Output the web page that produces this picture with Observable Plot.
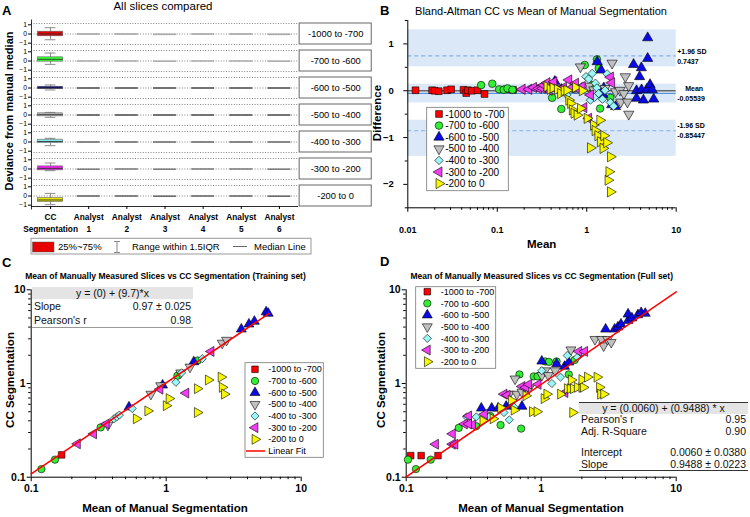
<!DOCTYPE html>
<html>
<head>
<meta charset="utf-8">
<script src="https://cdn.jsdelivr.net/npm/d3@7"></script>
<script src="https://cdn.jsdelivr.net/npm/@observablehq/plot@0.6"></script>
<style>
  body { margin: 0; background: #fff; }
  #root { position: relative; width: 750px; height: 517px; overflow: hidden; background: #fff;
          font-family: "Liberation Sans", Arial, Helvetica, sans-serif; color: #000; }
  .tbl { position: absolute; font-size: 10.5px; color: #111; }
  .tbl .hd { background: #e4e4e4; text-align: center; }
  .tbl .row { display: flex; justify-content: space-between; padding: 0 2px; }
</style>
</head>
<body>
<div id="root"></div>
<script>
const FONT = '"Liberation Sans", Arial, Helvetica, sans-serif';

// ---------------- shared categories ----------------
const sliceRanges = ["-1000 to -700", "-700 to -600", "-600 to -500", "-500 to -400", "-400 to -300", "-300 to -200", "-200 to 0"];
const sliceColors = ["#ff0000", "#33ee33", "#0a0ae6", "#c0c0c0", "#99f7f7", "#f53cf5", "#f7f700"];

// ---------------- panel A: box plots ----------------
const methodLabels = ["CC\nSegmentation", "Analyst\n1", "Analyst\n2", "Analyst\n3", "Analyst\n4", "Analyst\n5", "Analyst\n6"];
const boxColors = ["#e60000", "#33ff33", "#000080", "#bbbbbb", "#88eeee", "#ee22ee", "#e5e500"];
const ccQ1 = [-0.22, -0.06, -0.10, -0.13, -0.10, -0.13, -0.57];
const ccQ3 = [0.22, 0.35, 0.12, 0.16, 0.22, 0.25, -0.19];
const ccMedian = [0.00, 0.16, 0.00, 0.03, 0.05, 0.06, -0.38];
const ccWhiskerLow = [-0.55, -0.32, -0.19, -0.22, -0.35, -0.16, -0.83];
const ccWhiskerHigh = [0.60, 0.76, 0.29, 0.25, 0.35, 0.57, 0.25];
const analystMedian = [
  [0, 0, -0.03, 0, 0, -0.03],
  [0, 0, -0.02, 0, 0, -0.02],
  [0, 0, 0, 0, 0, 0],
  [0, 0, 0, 0, 0, 0],
  [0, 0, 0, 0, 0, 0],
  [-0.02, 0, -0.02, 0, 0, -0.02],
  [0, 0, -0.02, 0, 0, -0.02]
];
const analystTone = ["#a8a8a8", "#b0b0b0", "#555555", "#555555", "#707070", "#808080", "#6a6a6a"];
const aLegendItems = ["25%~75%", "Range within 1.5IQR", "Median Line"];

// ---------------- panel B: Bland-Altman ----------------
const baMeans = [
  [0.0122, 0.0187, 0.020, 0.0222, 0.0275, 0.0305, 0.042, 0.045, 0.047, 0.052, 0.06, 0.072, 0.125, 0.15],
  [0.066, 0.088, 0.105, 0.118, 0.13, 0.148, 0.30, 0.41, 0.52, 0.95, 1.30, 1.36, 1.41, 1.84, 1.15, 0.70],
  [0.44, 0.52, 1.31, 1.45, 1.55, 1.52, 1.90, 2.10, 3.34, 3.60, 3.60, 3.90, 4.08, 4.10, 4.30, 4.70, 4.80, 4.80, 5.10, 5.60, 5.40],
  [0.35, 0.50, 0.85, 1.05, 1.20, 1.92, 2.10, 2.35, 2.40, 2.60, 2.70, 2.85, 2.94, 2.95, 1.60],
  [0.45, 0.60, 0.75, 0.98, 1.05, 1.10, 1.15, 1.22, 1.25, 1.30, 1.36, 1.50, 1.60, 1.69, 1.84, 2.00, 0.90],
  [0.19, 0.225, 0.255, 0.29, 0.32, 0.33, 0.36, 0.38, 0.43, 0.49, 0.55, 0.63, 0.69, 0.75, 0.81, 0.89, 0.93, 1.05, 1.10, 1.84, 1.90],
  [0.36, 0.39, 0.42, 0.47, 0.51, 0.56, 0.60, 0.63, 0.66, 0.69, 0.72, 0.75, 0.78, 0.85, 0.89, 1.01, 1.10, 1.19, 1.24, 1.33, 1.40, 1.42, 1.52, 1.55, 1.67, 1.73, 1.77, 1.84, 1.84]
];
const baDiffs = [
  [0.01, 0.01, 0.0, -0.01, 0.01, 0.03, 0.02, -0.05, 0.01, 0.0, 0.01, -0.07, 0.03, 0.02],
  [0.12, 0.15, 0.03, 0.02, 0.05, 0.02, 0.06, -0.15, -0.39, 0.55, 0.67, 0.48, -0.38, -0.15, 0.12, 0.04],
  [0.20, 0.03, 0.62, 0.44, 0.06, -0.08, -0.30, -0.34, 0.56, -0.16, 0.00, 0.30, 0.49, 0.02, -0.20, 0.03, 1.13, 0.69, 0.13, -0.18, 0.02],
  [0.08, 0.05, 0.51, 0.10, 0.02, 0.59, -0.02, 0.01, -0.24, -0.06, 0.30, -0.24, 0.11, -0.50, 0.05],
  [0.05, -0.09, 0.02, 0.30, 0.25, -0.20, 0.37, -0.14, 0.16, 0.06, -0.06, -0.18, 0.01, 0.36, -0.25, -0.33, 0.10],
  [0.03, 0.03, 0.07, 0.05, 0.05, 0.12, 0.17, 0.01, 0.19, 0.01, 0.07, 0.23, 0.07, 0.16, 0.03, 0.09, -0.36, -0.59, -0.09, 0.29, 0.17],
  [0.09, 0.03, 0.06, 0.03, -0.06, 0.00, 0.01, -0.20, -0.27, -0.41, -0.48, 0.07, -0.52, -0.38, 0.00, -0.59, -1.22, -0.73, -0.85, -0.96, -0.63, -1.09, -1.23, -0.96, -1.11, -1.91, -1.73, -1.41, -2.16]
];
const baMeanDiff = -0.05539;
const baUpper = 0.7437;
const baLower = -0.85447;
const baBandLo = [0.51, -0.26, -1.40];
const baBandHi = [1.30, 0.14, -0.63];
const baXDomain = [0.01, 10];
const baYDomain = [-2.5, 1.5];
const baYTicks = [-2, -1, 0, 1];
const baYMinor = [-2.5, -1.5, -0.5, 0.5, 1.5];

// ---------------- panel C: training set ----------------
const trainManual = [
  [0.168],
  [0.119, 0.15, 0.327, 1.21, 1.71],
  [0.53, 0.94, 1.6, 3.6, 4.1, 4.5, 5.5, 5.7],
  [0.37, 0.77, 0.91, 1.28, 1.5, 2.6, 2.8],
  [0.41, 0.43, 0.45, 0.56, 1.18, 1.3, 1.85],
  [0.22, 0.29, 0.36, 0.9, 1.4, 2.15],
  [0.6, 0.73, 1.0, 1.05, 1.7, 1.7, 2.05, 2.55, 2.6, 2.7]
];
const trainCC = [
  [0.173],
  [0.122, 0.154, 0.34, 1.21, 1.76],
  [0.56, 0.96, 1.7, 3.8, 4.3, 4.6, 5.8, 5.6],
  [0.36, 0.77, 0.95, 1.3, 1.5, 2.7, 2.9],
  [0.42, 0.44, 0.46, 0.54, 1.03, 1.3, 1.84],
  [0.227, 0.29, 0.37, 0.87, 0.79, 2.2],
  [0.42, 0.51, 0.58, 0.69, 0.88, 0.49, 1.09, 1.17, 0.91, 0.77]
];
const trainFitRange = [0.1, 5.8];
const trainFitIntercept = 0.012;
const trainFitSlope = 0.965;
const trainTableHeader = "y = (0) + (9.7)*x";
const trainTableRows = [["Slope", "0.97 ± 0.025"], ["Pearson's r", "0.98"]];

// ---------------- panel D: full set ----------------
const fullManual = [
  [0.108, 0.129, 0.172],
  [0.103, 0.118, 0.152, 0.245, 0.33, 0.42, 0.5, 0.71, 0.69, 0.88, 0.94, 1.07, 1.14, 1.3, 1.6, 1.77],
  [0.36, 0.43, 0.48, 0.55, 0.6, 0.72, 1.01, 1.3, 1.49, 1.6, 3.0, 3.5, 3.7, 3.9, 4.4, 4.4, 4.7, 5.2, 5.5, 5.9],
  [0.58, 0.64, 0.66, 0.72, 0.81, 1.01, 1.07, 1.13, 1.27, 1.66, 2.5, 2.8, 2.9, 3.1, 3.3],
  [0.28, 0.33, 0.41, 0.53, 0.58, 0.63, 1.01, 1.2, 1.39, 1.56, 1.85, 2.0],
  [0.165, 0.22, 0.23, 0.22, 0.27, 0.29, 0.31, 0.29, 0.38, 0.53, 0.56, 0.72, 0.77, 0.81, 0.95, 1.5, 1.9, 2.1],
  [0.37, 0.44, 0.5, 0.6, 0.63, 0.77, 0.86, 0.93, 1.05, 1.1, 1.39, 1.56, 1.64, 1.73, 1.71, 1.85, 2.0, 2.05, 1.67, 2.0, 2.2, 2.59, 2.7, 2.75, 2.9]
];
const fullCC = [
  [0.17, 0.17, 0.17],
  [0.154, 0.122, 0.154, 0.336, 0.35, 0.45, 0.36, 0.33, 1.25, 1.19, 1.19, 1.72, 1.7, 1.72, 1.25, 1.78],
  [0.545, 0.545, 0.545, 0.57, 0.6, 0.57, 1.73, 1.62, 1.52, 1.69, 3.8, 3.8, 4.0, 4.3, 4.7, 5.5, 5.0, 5.4, 5.7, 5.6],
  [0.77, 1.12, 0.77, 0.81, 0.88, 1.22, 1.37, 1.22, 1.37, 2.29, 2.96, 2.96, 2.53, 2.96, 2.75],
  [0.44, 0.44, 0.44, 0.49, 0.41, 0.56, 1.37, 1.0, 1.17, 1.99, 1.9, 2.1],
  [0.225, 0.225, 0.225, 0.29, 0.37, 0.45, 0.36, 0.37, 0.47, 0.77, 0.75, 0.93, 0.91, 0.98, 0.98, 0.8, 2.2, 2.2],
  [0.4, 0.42, 0.55, 0.66, 0.52, 0.74, 0.5, 0.5, 0.69, 0.77, 0.77, 0.88, 0.88, 0.88, 0.49, 0.91, 0.91, 0.91, 1.09, 1.1, 1.17, 1.17, 0.91, 0.77, 0.77]
];
const fullFitRange = [0.1, 10];
const fullFitIntercept = 0.0060;
const fullFitSlope = 0.9488;
const fullTableHeader = "y = (0.0060) + (0.9488) * x";
const fullTableRows = [["Pearson's r", "0.95"], ["Adj. R-Square", "0.90"], null, ["Intercept", "0.0060 ± 0.0380"], ["Slope", "0.9488 ± 0.0223"]];

const logDomain = [0.1, 10];
const logMajor = [0.1, 1, 10];
const baXMajor = [0.01, 0.1, 1, 10];

// ---------------- symbols ----------------
const S3 = Math.sqrt(3);
const triDown = {draw(c, size) { const t = Math.sqrt(size / (S3 * 3)); c.moveTo(0, 2 * t); c.lineTo(S3 * t, -t); c.lineTo(-S3 * t, -t); c.closePath(); }};
const triLeft = {draw(c, size) { const t = Math.sqrt(size / (S3 * 3)); c.moveTo(-2 * t, 0); c.lineTo(t, -S3 * t); c.lineTo(t, S3 * t); c.closePath(); }};
const triRight = {draw(c, size) { const t = Math.sqrt(size / (S3 * 3)); c.moveTo(2 * t, 0); c.lineTo(-t, S3 * t); c.lineTo(-t, -S3 * t); c.closePath(); }};
const sliceSymbols = [d3.symbolSquare, d3.symbolCircle, d3.symbolTriangle, triDown, d3.symbolDiamond2, triLeft, triRight];
const DOT_R = 3.7;

function tidy(xs, ys) {
  const out = [];
  xs.forEach((arr, k) => arr.forEach((x, j) => out.push({k, slice: sliceRanges[k], x, y: ys[k][j]})));
  return out;
}
function dotMarks(data, r) {
  return sliceRanges.map((s, i) => Plot.dot(data.filter(d => d.k === i), {
    x: "x", y: "y", symbol: sliceSymbols[i], fill: sliceColors[i], stroke: "#000", strokeWidth: 0.6, r
  }));
}
function logMinor(domain) {
  return d3.scaleLog().domain(domain).ticks().filter(v => !Number.isInteger(Math.round(Math.log10(v) * 1e6) / 1e6));
}

const root = document.getElementById("root");
function place(node, left, top) {
  const w = document.createElement("div");
  w.style.cssText = `position:absolute;left:${left}px;top:${top}px;`;
  w.appendChild(node);
  root.appendChild(w);
}

// ================= Panel A =================
const xDomainA = [-0.5, 6.5];
const yDomainA = [-1, 1];
const aData = sliceRanges.map((s, i) => ({slice: s, m: 0, q1: ccQ1[i], q3: ccQ3[i], med: ccMedian[i], lo: ccWhiskerLow[i], hi: ccWhiskerHigh[i], fill: boxColors[i]}));
const aAnalyst = analystMedian.flatMap((row, i) => row.map((v, j) => ({slice: sliceRanges[i], m: j + 1, v, tone: analystTone[i]})));
const halfBox = 0.33, halfCap = 0.14, halfLine = 0.3;
const aTickStyle = {tickSize: 3, tickPadding: 1.5, fontSize: 6.8, label: null};

const plotA = Plot.plot({
  width: 375, height: 240,
  marginLeft: 31, marginRight: 77, marginTop: 21, marginBottom: 31.7,
  style: {fontFamily: FONT, fontSize: "8px", background: "transparent", color: "#000"},
  x: {domain: xDomainA, label: null},
  y: {domain: yDomainA, label: null},
  fy: {domain: sliceRanges, axis: null, label: null, paddingInner: 0.24, paddingOuter: 0},
  color: {type: "identity"},
  marks: [
    Plot.gridY([-1, 0, 1], {stroke: "#777", strokeOpacity: 0.9, strokeDasharray: "1,1.6"}),
    Plot.ruleX(sliceRanges, {fy: d => d, x: xDomainA[0], y1: -1.33, y2: 1.33, stroke: "#000", strokeWidth: 0.8}),
    Plot.ruleY([sliceRanges[sliceRanges.length - 1]], {fy: d => d, y: yDomainA[0], stroke: "#000", strokeWidth: 0.8}),
    Plot.axisY([1], {...aTickStyle, dy: 1.3}),
    Plot.axisY([0], {...aTickStyle}),
    Plot.axisY([-1], {...aTickStyle, dy: -1.3}),
    Plot.axisX(d3.range(methodLabels.length), {tickSize: 3, tickPadding: 2, tickFormat: i => methodLabels[i], fontSize: 8.3, fontWeight: "bold", lineHeight: 1.45, label: null}),
    Plot.ruleY(aAnalyst, {fy: "slice", y: "v", x1: d => d.m - halfLine, x2: d => d.m + halfLine, stroke: "tone", strokeWidth: 1.6}),
    Plot.ruleX(aData, {fy: "slice", x: "m", y1: "lo", y2: "hi", stroke: "#8c8c8c"}),
    Plot.ruleY(aData, {fy: "slice", y: "hi", x1: d => d.m - halfCap, x2: d => d.m + halfCap, stroke: "#8c8c8c"}),
    Plot.ruleY(aData, {fy: "slice", y: "lo", x1: d => d.m - halfCap, x2: d => d.m + halfCap, stroke: "#8c8c8c"}),
    Plot.rect(aData, {fy: "slice", x1: d => d.m - halfBox, x2: d => d.m + halfBox, y1: "q1", y2: "q3", fill: "fill", stroke: "#666", strokeWidth: 0.6}),
    Plot.ruleY(aData, {fy: "slice", y: "med", x1: d => d.m - halfBox, x2: d => d.m + halfBox, stroke: "#333", strokeWidth: 0.9}),
    Plot.rect(sliceRanges, {fy: d => d, x1: 6.53, x2: 8.42, y1: -1, y2: 1, fill: "#fff", stroke: "#666", strokeWidth: 1}),
    Plot.text(sliceRanges, {fy: d => d, x: 7.475, y: 0, text: d => d, fontSize: 9.3})
  ]
});
place(plotA, 0, 0);

// ================= Panel B =================
const baData = tidy(baMeans, baDiffs);
const baBands = baBandLo.map((lo, i) => ({lo, hi: baBandHi[i]}));
const annot = {frameAnchor: "right", textAnchor: "start", fontSize: 7, fontWeight: "bold"};
const plotB = Plot.plot({
  width: 375, height: 250,
  marginLeft: 32.3, marginRight: 74.3, marginTop: 20, marginBottom: 42.7,
  style: {fontFamily: FONT, fontSize: "9px", background: "transparent", color: "#000"},
  x: {type: "log", domain: baXDomain, label: null},
  y: {domain: baYDomain, label: null},
  marks: [
    Plot.rect(baBands, {y1: "lo", y2: "hi", fill: "#dbe8f8"}),
    Plot.ruleY([0], {stroke: "#666", strokeWidth: 1.3}),
    Plot.ruleY([baMeanDiff], {stroke: "#3f80d8", strokeWidth: 1}),
    Plot.ruleY([baUpper, baLower], {stroke: "#86aee8", strokeWidth: 1.2, strokeDasharray: "4,3"}),
    Plot.ruleX([baXDomain[0]], {stroke: "#000", strokeWidth: 1}),
    Plot.ruleY([baYDomain[0]], {stroke: "#000", strokeWidth: 1}),
    Plot.axisY(baYTicks, {tickSize: 4, tickPadding: 10, fontSize: 9.5, fontWeight: "bold", label: null}),
    Plot.axisY(baYMinor, {tickSize: 2.5, tickFormat: () => "", label: null}),
    Plot.axisX(baXMajor, {tickSize: 4.5, tickPadding: 14, tickFormat: d => String(d), fontSize: 9, fontWeight: "bold", label: null}),
    Plot.axisX(logMinor(baXDomain), {tickSize: 2.5, tickFormat: () => "", label: null}),
    ...dotMarks(baData, 3.8),
    Plot.text([baUpper], {...annot, y: d => d, text: () => "+1.96 SD", dx: 1, dy: -4.5}),
    Plot.text([baUpper], {...annot, y: d => d, text: d => String(d), dx: 1, dy: 5.5}),
    Plot.text([baMeanDiff], {...annot, y: d => d, text: () => "Mean", dx: 9, dy: -4.5}),
    Plot.text([baMeanDiff], {...annot, y: d => d, text: d => String(d), dx: 1, dy: 5.5}),
    Plot.text([baLower], {...annot, y: d => d, text: () => "-1.96 SD", dx: 1, dy: -4.5}),
    Plot.text([baLower], {...annot, y: d => d, text: d => String(d), dx: 1, dy: 5.5})
  ]
});
place(plotB, 375, 0);

// ================= Panels C & D =================
function scatterPanel(xs, ys, fitRange, b0, b1) {
  const data = tidy(xs, ys);
  const fit = fitRange.map(x => ({x, y: b0 + b1 * x}));
  return Plot.plot({
    width: 375, height: 237,
    marginLeft: 30.7, marginRight: 74.3, marginTop: 9.3, marginBottom: 40.3,
    style: {fontFamily: FONT, fontSize: "10px", background: "transparent", color: "#000"},
    x: {type: "log", domain: logDomain, label: null},
    y: {type: "log", domain: logDomain, label: null},
    marks: [
      Plot.ruleX([logDomain[0]], {stroke: "#000", strokeWidth: 1}),
      Plot.ruleY([logDomain[0]], {stroke: "#000", strokeWidth: 1}),
      Plot.axisX(logMajor, {tickSize: 4.5, tickPadding: 3, tickFormat: d => String(d), fontSize: 10.5, fontWeight: "bold", label: null}),
      Plot.axisX(logMinor(logDomain), {tickSize: 2.5, tickFormat: () => "", label: null}),
      Plot.axisY(logMajor, {tickSize: 4, tickPadding: 1.5, tickFormat: d => String(d), fontSize: 10.5, fontWeight: "bold", label: null}),
      Plot.axisY(logMinor(logDomain), {tickSize: 2.5, tickFormat: () => "", label: null}),
      ...dotMarks(data, DOT_R),
      Plot.line(fit, {x: "x", y: "y", stroke: "#ff0000", strokeWidth: 1.5})
    ]
  });
}
place(scatterPanel(trainManual, trainCC, trainFitRange, trainFitIntercept, trainFitSlope), 0, 280);
place(scatterPanel(fullManual, fullCC, fullFitRange, fullFitIntercept, fullFitSlope), 375, 280);

// ================= Overlay: titles, labels, legends =================
const ov = d3.create("svg").attr("width", 750).attr("height", 517)
  .style("position", "absolute").style("left", "0px").style("top", "0px")
  .style("font-family", FONT).style("pointer-events", "none");
function t(str, x, y, opts = {}) {
  const el = ov.append("text").attr("x", x).attr("y", y).text(str)
    .attr("font-size", opts.size || 10).attr("text-anchor", opts.anchor || "start")
    .attr("font-weight", opts.bold ? "bold" : "normal").attr("fill", opts.fill || "#000");
  if (opts.rotate) el.attr("transform", `rotate(-90 ${x} ${y})`);
  return el;
}
// panel letters
t("A", 2, 15, {size: 13, bold: true});
t("B", 380, 15, {size: 13, bold: true});
t("C", 2, 267, {size: 13, bold: true});
t("D", 380, 266, {size: 13, bold: true});
// titles
t("All slices compared", 163, 10, {size: 11.5, anchor: "middle"});
t("Bland-Altman CC vs Mean of Manual Segmentation", 541, 14.6, {size: 11, anchor: "middle"});
t("Mean of Manually Measured Slices vs CC Segmentation (Training set)", 165.5, 279, {size: 8.5, anchor: "middle", bold: true});
t("Mean of Manually Measured Slices vs CC Segmentation (Full set)", 541.7, 279, {size: 8.5, anchor: "middle", bold: true});
// axis titles
t("Deviance from manual median", 12.5, 111, {size: 11, anchor: "middle", bold: true, rotate: true});
t("Difference", 381, 113, {size: 11.5, anchor: "middle", bold: true, rotate: true});
t("Mean", 541.7, 248, {size: 11.5, anchor: "middle", bold: true});
t("CC Segmentation", 13.5, 380, {size: 11.5, anchor: "middle", bold: true, rotate: true});
t("CC Segmentation", 385, 380, {size: 11.5, anchor: "middle", bold: true, rotate: true});
t("Mean of Manual Segmentation", 165, 511.5, {size: 11.5, anchor: "middle", bold: true});
t("Mean of Manual Segmentation", 541, 511.5, {size: 11.5, anchor: "middle", bold: true});

// panel A legend
ov.append("rect").attr("x", 31).attr("y", 238.3).attr("width", 280).attr("height", 15.7).attr("fill", "#fff").attr("stroke", "#999").attr("stroke-width", 1);
ov.append("rect").attr("x", 32.5).attr("y", 242).attr("width", 21.5).attr("height", 10).attr("fill", boxColors[0]).attr("stroke", "#555").attr("stroke-width", 0.5);
t(aLegendItems[0], 58, 250.3, {size: 9.5});
ov.append("path").attr("d", "M114,241.5H120M117,241.5V252.5M114,252.5H120").attr("stroke", "#888").attr("fill", "none");
t(aLegendItems[1], 132, 250.3, {size: 9.5});
ov.append("line").attr("x1", 233).attr("x2", 247).attr("y1", 246.5).attr("y2", 246.5).attr("stroke", "#666");
t(aLegendItems[2], 254, 250.3, {size: 9.5});

// scatter legends
function legend(x, y, w, h, first, pitch, symX, textX, size, r, withFit) {
  ov.append("rect").attr("x", x).attr("y", y).attr("width", w).attr("height", h).attr("fill", "#fff").attr("stroke", "#777").attr("stroke-width", 0.8);
  sliceRanges.forEach((s, i) => {
    const cy = y + first + i * pitch;
    ov.append("path").attr("d", d3.symbol(sliceSymbols[i], Math.PI * r * r)())
      .attr("transform", `translate(${x + symX},${cy})`)
      .attr("fill", sliceColors[i]).attr("stroke", "#000").attr("stroke-width", 0.6);
    t(s, x + textX, cy + size * 0.35, {size});
  });
  if (withFit) {
    const cy = y + first + sliceRanges.length * pitch;
    ov.append("line").attr("x1", x + 1).attr("x2", x + 20).attr("y1", cy).attr("y2", cy).attr("stroke", "#ff0000").attr("stroke-width", 1.5);
    t("Linear Fit", x + textX, cy + size * 0.35, {size});
  }
}
legend(426.7, 107.3, 81.6, 83.4, 6.7, 11.6, 12.3, 18.5, 10, 3.8, false);
legend(245, 362.7, 78.3, 94.6, 6.6, 11.67, 10, 23.3, 9, 3.7, true);
legend(415.7, 286.7, 80, 81.6, 5, 11.67, 11.6, 25, 9, 3.7, false);
root.appendChild(ov.node());

// tables
function table(left, top, width, header, rows, opts) {
  const div = document.createElement("div");
  div.className = "tbl";
  div.style.cssText = `left:${left}px;top:${top}px;width:${width}px;border-bottom:1px solid ${opts.bottom};` + (opts.top ? `border-top:1px solid ${opts.top};` : "");
  const hd = document.createElement("div");
  hd.className = "hd";
  hd.style.height = hd.style.lineHeight = opts.hdH + "px";
  hd.textContent = header;
  div.appendChild(hd);
  rows.forEach(r => {
    const row = document.createElement("div");
    row.className = "row";
    if (r === null) { row.style.height = opts.gap + "px"; }
    else {
      row.style.height = row.style.lineHeight = opts.rowH + "px";
      const a = document.createElement("span"); a.textContent = r[0];
      const b = document.createElement("span"); b.textContent = r[1];
      row.appendChild(a); row.appendChild(b);
    }
    div.appendChild(row);
  });
  root.appendChild(div);
}
table(32, 286.7, 161, trainTableHeader, trainTableRows, {hdH: 12.6, rowH: 14, bottom: "#999"});
table(579, 402.2, 169, fullTableHeader, fullTableRows, {hdH: 11.3, rowH: 11.5, gap: 10, bottom: "#333", top: "#333"});
</script>
</body>
</html>
